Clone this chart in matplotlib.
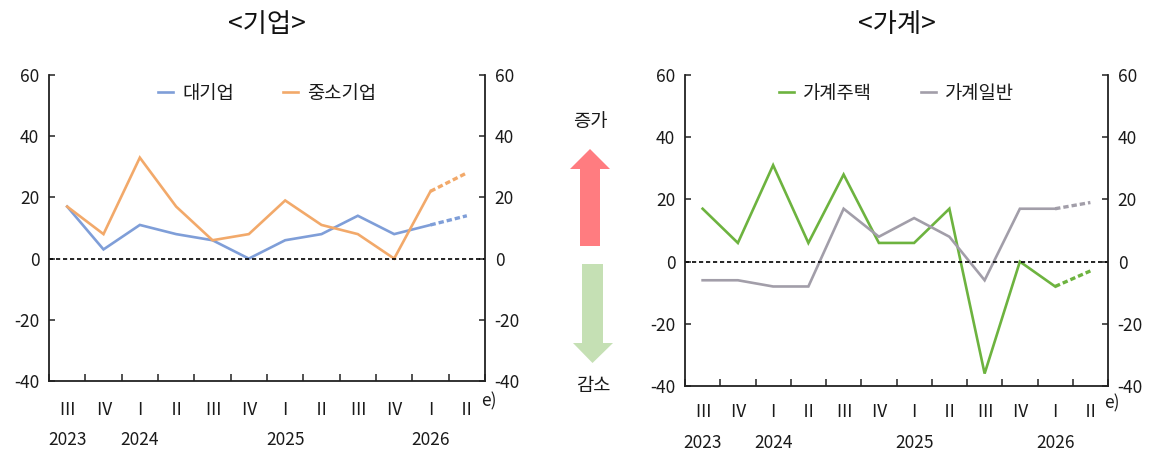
import matplotlib
matplotlib.use("Agg")
import matplotlib.pyplot as plt
from matplotlib.patches import Polygon

plt.rcParams['font.family'] = ['Noto Sans CJK KR', 'DejaVu Sans']
plt.rcParams['axes.unicode_minus'] = False

quarters = ['Ⅲ', 'Ⅳ', 'Ⅰ', 'Ⅱ', 'Ⅲ', 'Ⅳ', 'Ⅰ', 'Ⅱ', 'Ⅲ', 'Ⅳ', 'Ⅰ', 'Ⅱ']
years = {0: '2023', 2: '2024', 6: '2025', 10: '2026'}

large_firms = [17, 3, 11, 8, 6, 0, 6, 8, 14, 8, 11, 14]
sme_firms = [17, 8, 33, 17, 6, 8, 19, 11, 8, 0, 22, 28]
hh_housing = [17, 6, 31, 6, 28, 6, 6, 17, -36, 0, -8, -3]
hh_general = [-6, -6, -8, -8, 17, 8, 14, 8, -6, 17, 17, 19]

C_BLUE = '#7F9ED8'
C_ORANGE = '#F2A96A'
C_GREEN = '#6DB33F'
C_GRAY = '#A29EA9'
TXT = '#1a1a1a'

W, H = 1176, 451
fig = plt.figure(figsize=(W / 100, H / 100), dpi=100)


def px_axes(x0, x1, top, bottom):
    return fig.add_axes([x0 / W, 1 - bottom / H, (x1 - x0) / W, (bottom - top) / H])


def draw_panel(ax, series, title, lab_off, year_off):
    n = len(quarters)
    xs = list(range(n))
    for vals, color, name in series:
        ax.plot(xs[:-1], vals[:-1], color=color, lw=1.9, label=name,
                solid_joinstyle='miter')
        ax.plot(xs[-2:], vals[-2:], color=color, lw=2.4, ls=(0, (1.6, 0.9)))
    ax.axhline(0, color='black', lw=1.2, ls=(0, (2.5, 1.7)))
    ax.set_xlim(-0.5, n - 0.5)
    ax.set_ylim(-40, 60)
    ax.set_yticks(range(-40, 61, 20))
    ax.set_xticks([i - 0.5 for i in range(n + 1)])
    ax.set_xticklabels([])
    ax.tick_params(axis='x', direction='in', length=5, width=1.1, color='#222222')
    ax.tick_params(axis='y', direction='in', length=4, width=1.1, color='#222222',
                   right=True, labelright=True, labelsize=12.5, pad=7,
                   labelcolor=TXT)
    for s in ['left', 'right', 'bottom']:
        ax.spines[s].set_linewidth(1.3)
        ax.spines[s].set_color('#222222')
    ax.spines['top'].set_visible(False)
    for i, q in enumerate(quarters):
        ax.annotate(q, xy=(i, 0), xycoords=('data', 'axes fraction'),
                    xytext=(0, -lab_off * 0.72), textcoords='offset points',
                    ha='center', va='center', fontsize=12.5, color=TXT)
    for i, y in years.items():
        ax.annotate(y, xy=(i, 0), xycoords=('data', 'axes fraction'),
                    xytext=(0, -year_off * 0.72), textcoords='offset points',
                    ha='center', va='center', fontsize=12.5, color=TXT)
    ax.annotate('e)', xy=(n - 1, 0), xycoords=('data', 'axes fraction'),
                xytext=(10, -(lab_off - 9) * 0.72), textcoords='offset points',
                ha='left', va='center', fontsize=12.5, color=TXT)
    leg = ax.legend(loc='upper center', bbox_to_anchor=(0.5, 1.0), ncol=2,
                    frameon=False, fontsize=13.5, handlelength=0.8,
                    handletextpad=0.5, columnspacing=2.6, borderaxespad=0.0)
    for t in leg.get_texts():
        t.set_color(TXT)
    ax.set_title(title, fontsize=19, pad=31, color='#111111')


ax1 = px_axes(49, 485, 75, 381)
draw_panel(ax1, [(large_firms, C_BLUE, '대기업'), (sme_firms, C_ORANGE, '중소기업')],
           '<기업>', 29, 59)

ax2 = px_axes(685, 1108, 75, 386)
draw_panel(ax2, [(hh_housing, C_GREEN, '가계주택'), (hh_general, C_GRAY, '가계일반')],
           '<가계>', 26, 57)

# middle arrows (decoration)
ov = fig.add_axes([0, 0, 1, 1])
ov.set_xlim(0, W)
ov.set_ylim(H, 0)
ov.axis('off')
ov.patch.set_alpha(0)
up = [(580, 246), (600, 246), (600, 169), (610, 169), (590, 149), (570, 169), (580, 169)]
down = [(582, 264), (603, 264), (603, 343), (613, 343), (592.5, 363), (573, 343), (582, 343)]
ov.add_patch(Polygon(up, closed=True, facecolor='#FF7C80', edgecolor='none'))
ov.add_patch(Polygon(down, closed=True, facecolor='#C5E0B4', edgecolor='none'))
ov.text(590, 121, '증가', ha='center', va='center', fontsize=13.5, color=TXT)
ov.text(593, 386, '감소', ha='center', va='center', fontsize=13.5, color=TXT)

fig.savefig('out.png', dpi=100)
